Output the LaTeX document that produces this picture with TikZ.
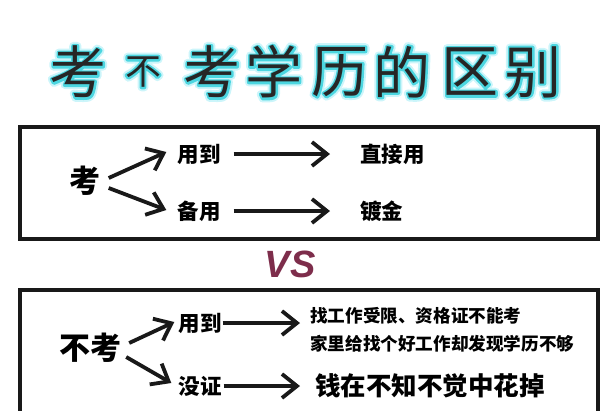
\documentclass[tikz,border=0pt]{standalone}
\usepackage{fontspec}
\setmainfont{Liberation Sans}
\newfontfamily\cjk{Noto Sans CJK SC}
\usetikzlibrary{arrows.meta}

\definecolor{vscol}{RGB}{125,45,75}
% cyan halo: the glyph stroked twice under its own fill
\newcommand\halo[1]{%
  \rlap{\special{pdf:literal direct 1 Tr 1 j 8 w 0.80 0.96 0.98 RG}#1}%
  \rlap{\special{pdf:literal direct 1 Tr 1 j 4 w 0.30 0.84 0.88 RG}#1}%
  \special{pdf:literal direct 0 Tr}#1}

\begin{document}
\begin{tikzpicture}[
  x=1pt, y=-1pt,
  >={Straight Barb[length=15pt, width=24pt]},
  frame/.style={draw=black!90, line width=4pt, inner sep=0pt},
  arr/.style={->, line width=3.8pt, black!90},
  ttl/.style={inner sep=0pt, text=black!85},
  mid/.style={inner sep=0pt, font=\cjk\bfseries\fontsize{31}{34}\selectfont},
  sml/.style={inner sep=0pt, font=\cjk\bfseries\fontsize{21.5}{24}\selectfont},
  note/.style={inner sep=0pt, align=left, font=\cjk\bfseries\fontsize{17.6}{28}\selectfont},
  lrg/.style={inner sep=0pt, font=\cjk\bfseries\fontsize{25.5}{28}\selectfont}
]
\useasboundingbox (0,0) rectangle (610,410);
\clip (0,0) rectangle (610,410);

% title
\foreach \ch/\x/\s [count=\i] in {考/78/57, 不/143/36, 考/212/57, 学/274/57,
    历/340/57, 的/402/57, 区/470/57, 别/533/57}
  \node[ttl, font=\cjk\fontsize{\s}{\s}\selectfont] (t\i) at (\x,72) {\halo{\ch}};

% upper box
\node[frame, minimum width=578pt, minimum height=112pt] (box1) at (309,183) {};
\node[mid] (kao) at (85,181) {考};
\node[sml] (use1) at (199,154) {用到};
\node[sml] (spare) at (199,211) {备用};
\node[sml, anchor=west] (direct) at (360,154) {直接用};
\node[sml, anchor=west] (gild) at (360,211) {镀金};

\draw[arr] ([shift={(8,-3)}]kao.east) -- ([shift={(-11,-2)}]use1.west);
\draw[arr] ([shift={(8,7)}]kao.east) -- ([shift={(-11,-1)}]spare.west);
\draw[arr, shorten <=13pt, shorten >=30pt] (use1.east) -- (use1.east -| direct.west);
\draw[arr, shorten <=13pt, shorten >=30pt] (spare.east) -- (spare.east -| gild.west);

\node[font=\bfseries\itshape\fontsize{38}{40}\selectfont, text=vscol, inner sep=0pt] (vs) at (290,264) {VS};

% lower box
\node[frame, minimum width=578pt, minimum height=150pt, anchor=north] (box2) at (309,288) {};
\node[mid] (nokao) at (90,348) {不考};
\node[sml] (use2) at (200,323) {用到};
\node[sml] (nocert) at (200,386) {没证};
\node[note, anchor=west] (limits) at (310,330) {找工作受限、资格证不能考\\家里给找个好工作却发现学历不够};
\node[lrg, anchor=west] (money) at (315,386) {钱在不知不觉中花掉};

\draw[arr] ([shift={(8,-5)}]nokao.east) -- ([shift={(-4,-1)}]use2.west);
\draw[arr] ([shift={(5,9)}]nokao.east) -- ([shift={(-7,-3)}]nocert.west);
\draw[arr, shorten <=1pt, shorten >=10pt] (use2.east) -- (use2.east -| limits.west);
\draw[arr, shorten <=2pt, shorten >=15pt] (nocert.east) -- (nocert.east -| money.west);
\end{tikzpicture}
\end{document}
